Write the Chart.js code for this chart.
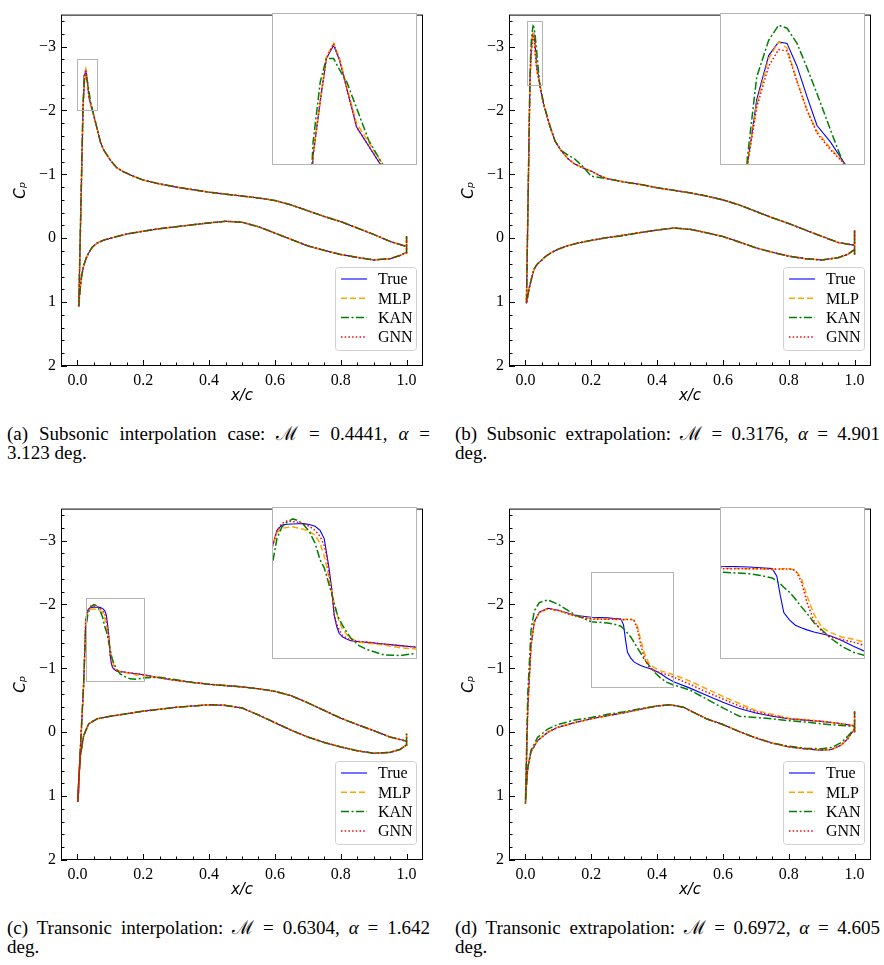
<!DOCTYPE html>
<html>
<head>
<meta charset="utf-8">
<script src="https://cdn.jsdelivr.net/npm/chart.js@4.4.0/dist/chart.umd.min.js"></script>
<style>
  body { margin: 0; background: #fff; width: 884px; height: 965px; position: relative; overflow: hidden; }
  .panel { position: absolute; width: 440px; height: 410px; }
  .panel canvas.main { position: absolute; left: 0; top: 0; }
  .panel canvas.inset { position: absolute; left: 272px; top: 13px; background: #fff; }
  .cap { position: absolute; font-family: "Liberation Serif", serif; font-size: 19px; line-height: 19px; color: #000; }
  .cap .l1 { display: block; text-align: justify; text-align-last: justify; white-space: nowrap; }
</style>
</head>
<body>
<div class="panel" style="left:0;top:0"><canvas class="main" id="mainA" width="440" height="410"></canvas><canvas class="inset" id="insA" width="145" height="152"></canvas></div>
<div class="panel" style="left:448px;top:0"><canvas class="main" id="mainB" width="440" height="410"></canvas><canvas class="inset" id="insB" width="145" height="152"></canvas></div>
<div class="panel" style="left:0;top:494px"><canvas class="main" id="mainC" width="440" height="410"></canvas><canvas class="inset" id="insC" width="145" height="152"></canvas></div>
<div class="panel" style="left:448px;top:494px"><canvas class="main" id="mainD" width="440" height="410"></canvas><canvas class="inset" id="insD" width="145" height="152"></canvas></div>

<div class="cap" style="left:7px;top:424px;width:423px"><span class="l1">(a) Subsonic interpolation case: ℳ = 0.4441, <i>α</i> =</span>3.123 deg.</div>
<div class="cap" style="left:455px;top:424px;width:425px"><span class="l1">(b) Subsonic extrapolation: ℳ = 0.3176, <i>α</i> = 4.901</span>deg.</div>
<div class="cap" style="left:7px;top:918px;width:423px"><span class="l1">(c) Transonic interpolation: ℳ = 0.6304, <i>α</i> = 1.642</span>deg.</div>
<div class="cap" style="left:455px;top:918px;width:425px"><span class="l1">(d) Transonic extrapolation: ℳ = 0.6972, <i>α</i> = 4.605</span>deg.</div>

<script>
// axes
const xTicks = [0, 0.2, 0.4, 0.6, 0.8, 1.0];
const yTicks = [-3, -2, -1, 0, 1, 2];

const seriesNames = ["True", "MLP", "KAN", "GNN"];
const seriesColors = ["#0000ff", "#ffa500", "#008000", "#ff0000"];
const seriesDash = [[], [6, 3], [8, 2.5, 2, 2.5], [1.5, 2.2]];

// (a) subsonic interpolation -- loop: TE spike, upper surface TE->LE, lower LE->TE
const aX = [1.0, 1.0, 1.0,
  0.95, 0.9, 0.85, 0.8, 0.75, 0.7, 0.65, 0.6, 0.55, 0.5,
  0.45, 0.4, 0.35, 0.3, 0.25, 0.2, 0.17, 0.14, 0.12, 0.1,
  0.08, 0.07, 0.06, 0.05, 0.045, 0.04, 0.035, 0.031, 0.028, 0.0255,
  0.0225, 0.02, 0.017, 0.004,
  0.006, 0.009, 0.013, 0.019, 0.026, 0.034, 0.045, 0.06, 0.08, 0.1,
  0.15, 0.2, 0.25, 0.3, 0.35, 0.4, 0.45, 0.5, 0.55, 0.6,
  0.65, 0.7, 0.75, 0.8, 0.85, 0.9, 0.95, 0.98, 1.0];
const aTrue = [0.24, -0.035, 0.13,
  0.05, -0.06, -0.16, -0.26, -0.34, -0.43, -0.52, -0.59, -0.63, -0.66,
  -0.69, -0.72, -0.76, -0.80, -0.85, -0.91, -0.97, -1.04, -1.10, -1.22,
  -1.38, -1.50, -1.71, -1.91, -2.00, -2.10, -2.20, -2.40, -2.55, -2.63,
  -2.56, -2.34, -2.05, 1.07,
  0.92, 0.75, 0.58, 0.43, 0.32, 0.23, 0.14, 0.076, 0.03, 0.0,
  -0.066, -0.11, -0.15, -0.18, -0.21, -0.24, -0.265, -0.25, -0.18, -0.08,
  0.02, 0.12, 0.19, 0.255, 0.30, 0.34, 0.32, 0.27, 0.22];
const aMLP = [0.24, -0.035, 0.13,
  0.05, -0.06, -0.16, -0.26, -0.34, -0.43, -0.52, -0.59, -0.63, -0.66,
  -0.69, -0.72, -0.76, -0.80, -0.85, -0.91, -0.97, -1.04, -1.10, -1.22,
  -1.38, -1.50, -1.71, -1.92, -2.02, -2.12, -2.22, -2.41, -2.56, -2.64,
  -2.57, -2.34, -2.05, 1.07,
  0.92, 0.75, 0.58, 0.43, 0.32, 0.23, 0.14, 0.076, 0.03, 0.0,
  -0.066, -0.11, -0.15, -0.18, -0.21, -0.24, -0.265, -0.25, -0.18, -0.08,
  0.02, 0.12, 0.19, 0.255, 0.30, 0.34, 0.32, 0.27, 0.22];
const aKAN = [0.24, -0.035, 0.13,
  0.05, -0.06, -0.16, -0.26, -0.34, -0.43, -0.52, -0.59, -0.63, -0.66,
  -0.69, -0.72, -0.76, -0.80, -0.85, -0.91, -0.97, -1.04, -1.10, -1.22,
  -1.38, -1.50, -1.71, -1.92, -2.02, -2.13, -2.30, -2.435, -2.50, -2.56,
  -2.56, -2.44, -2.12, 1.07,
  0.92, 0.75, 0.58, 0.43, 0.32, 0.23, 0.14, 0.076, 0.03, 0.0,
  -0.066, -0.11, -0.15, -0.18, -0.21, -0.24, -0.265, -0.25, -0.18, -0.08,
  0.02, 0.12, 0.19, 0.255, 0.30, 0.34, 0.32, 0.27, 0.22];
const aGNN = [0.24, -0.035, 0.13,
  0.05, -0.06, -0.16, -0.26, -0.34, -0.43, -0.52, -0.59, -0.63, -0.66,
  -0.69, -0.72, -0.76, -0.80, -0.85, -0.91, -0.97, -1.04, -1.10, -1.22,
  -1.38, -1.50, -1.71, -1.91, -2.00, -2.10, -2.20, -2.40, -2.55, -2.64,
  -2.56, -2.34, -2.05, 1.07,
  0.92, 0.75, 0.58, 0.43, 0.32, 0.23, 0.14, 0.076, 0.03, 0.0,
  -0.066, -0.11, -0.15, -0.18, -0.21, -0.24, -0.265, -0.25, -0.18, -0.08,
  0.02, 0.12, 0.19, 0.255, 0.30, 0.34, 0.32, 0.27, 0.22];
const aInset = [0, 0.06, -2.8, -2.0];

// (b) subsonic extrapolation
const bX = [1.0, 1.0, 1.0,
  0.95, 0.9, 0.85, 0.8, 0.75, 0.7, 0.65, 0.6, 0.55, 0.5,
  0.45, 0.4, 0.35, 0.3, 0.25, 0.225, 0.2, 0.175, 0.15, 0.13,
  0.107, 0.09, 0.077, 0.067, 0.057, 0.05, 0.044, 0.0393, 0.0351, 0.032,
  0.0289, 0.0258, 0.0232, 0.0201, 0.0164, 0.0135, 0.003,
  0.005, 0.008, 0.011, 0.017, 0.026, 0.035, 0.0466, 0.06, 0.077, 0.1,
  0.128, 0.16, 0.198, 0.25, 0.3, 0.35, 0.4, 0.45, 0.5, 0.55,
  0.6, 0.65, 0.7, 0.75, 0.8, 0.85, 0.9, 0.95, 0.98, 1.0];
const bTrue = [0.255, -0.13, 0.11,
  0.066, -0.03, -0.13, -0.23, -0.32, -0.42, -0.52, -0.60, -0.66, -0.71,
  -0.75, -0.79, -0.84, -0.88, -0.93, -0.98, -1.05, -1.10, -1.16, -1.24,
  -1.38, -1.52, -1.71, -1.88, -2.06, -2.22, -2.40, -2.55, -2.66, -2.85,
  -3.05, -3.20, -3.21, -3.12, -2.83, -2.40, 1.02,
  0.96, 0.88, 0.79, 0.66, 0.485, 0.41, 0.356, 0.29, 0.23, 0.17,
  0.118, 0.075, 0.035, -0.01, -0.05, -0.09, -0.127, -0.16, -0.14, -0.085,
  -0.026, 0.06, 0.15, 0.22, 0.28, 0.32, 0.34, 0.305, 0.25, 0.18];
const bMLP = [0.255, -0.13, 0.11,
  0.066, -0.03, -0.13, -0.23, -0.32, -0.42, -0.52, -0.60, -0.66, -0.71,
  -0.75, -0.79, -0.84, -0.88, -0.93, -0.98, -1.05, -1.10, -1.16, -1.24,
  -1.38, -1.52, -1.71, -1.88, -2.06, -2.22, -2.40, -2.51, -2.62, -2.76,
  -2.95, -3.17, -3.21, -3.10, -2.80, -2.40, 1.02,
  0.96, 0.88, 0.79, 0.66, 0.485, 0.41, 0.356, 0.29, 0.23, 0.17,
  0.118, 0.075, 0.035, -0.01, -0.05, -0.09, -0.127, -0.16, -0.14, -0.085,
  -0.026, 0.06, 0.15, 0.22, 0.28, 0.32, 0.34, 0.305, 0.25, 0.18];
const bKAN = [0.255, -0.13, 0.11,
  0.066, -0.03, -0.13, -0.23, -0.32, -0.42, -0.52, -0.60, -0.66, -0.71,
  -0.75, -0.79, -0.84, -0.88, -0.93, -0.95, -0.97, -1.12, -1.24, -1.30,
  -1.38, -1.52, -1.72, -1.89, -2.08, -2.24, -2.37, -2.63, -2.87, -3.04,
  -3.20, -3.30, -3.32, -3.22, -2.98, -2.45, 1.02,
  0.96, 0.88, 0.79, 0.66, 0.485, 0.41, 0.356, 0.29, 0.23, 0.17,
  0.118, 0.075, 0.035, -0.01, -0.04, -0.09, -0.127, -0.16, -0.14, -0.085,
  -0.026, 0.06, 0.15, 0.22, 0.28, 0.32, 0.34, 0.305, 0.25, 0.18];
const bGNN = [0.255, -0.13, 0.11,
  0.066, -0.03, -0.13, -0.23, -0.32, -0.42, -0.52, -0.60, -0.66, -0.71,
  -0.75, -0.79, -0.84, -0.88, -0.93, -0.98, -1.05, -1.10, -1.16, -1.24,
  -1.38, -1.52, -1.71, -1.88, -2.06, -2.22, -2.40, -2.50, -2.61, -2.76,
  -2.95, -3.15, -3.16, -3.05, -2.78, -2.40, 1.02,
  0.96, 0.88, 0.79, 0.66, 0.485, 0.41, 0.356, 0.29, 0.23, 0.17,
  0.118, 0.075, 0.035, -0.01, -0.05, -0.09, -0.127, -0.16, -0.14, -0.085,
  -0.026, 0.06, 0.15, 0.22, 0.28, 0.32, 0.34, 0.305, 0.25, 0.18];
const bInset = [0.005, 0.05, -3.4, -2.4];

// (c) transonic interpolation
const cX = [1.0, 1.0, 1.0,
  0.95, 0.9, 0.85, 0.8, 0.75, 0.7, 0.65, 0.6, 0.55, 0.5,
  0.45, 0.4, 0.35, 0.3, 0.25, 0.2, 0.18, 0.16, 0.14, 0.13,
  0.12, 0.115, 0.11, 0.106, 0.103, 0.1, 0.097, 0.094, 0.091, 0.088,
  0.083, 0.077, 0.07, 0.063, 0.056, 0.05, 0.043, 0.037, 0.031, 0.025,
  0.019, 0.01, 0.001,
  0.002, 0.004, 0.009, 0.019, 0.034, 0.06, 0.1, 0.15, 0.2, 0.25,
  0.3, 0.35, 0.4, 0.45, 0.5, 0.55, 0.6, 0.65, 0.7, 0.75,
  0.8, 0.85, 0.9, 0.95, 0.98, 1.0];
const cTrue = [0.21, 0.025, 0.14,
  0.076, -0.025, -0.12, -0.22, -0.34, -0.46, -0.57, -0.64, -0.68, -0.71,
  -0.73, -0.75, -0.78, -0.81, -0.85, -0.90, -0.914, -0.928, -0.942, -0.948,
  -0.956, -0.97, -0.99, -1.02, -1.08, -1.18, -1.40, -1.57, -1.70, -1.83,
  -1.90, -1.935, -1.95, -1.958, -1.957, -1.955, -1.952, -1.945, -1.90, -1.75,
  -0.76, 0.165, 1.09,
  0.95, 0.76, 0.36, 0.05, -0.13, -0.21, -0.25, -0.29, -0.33, -0.36,
  -0.39, -0.41, -0.43, -0.42, -0.38, -0.27, -0.15, -0.03, 0.076, 0.16,
  0.23, 0.29, 0.33, 0.315, 0.27, 0.20];
const cMLP = [0.21, 0.025, 0.14,
  0.076, -0.025, -0.12, -0.22, -0.34, -0.46, -0.57, -0.64, -0.68, -0.71,
  -0.73, -0.75, -0.78, -0.81, -0.85, -0.885, -0.895, -0.92, -0.935, -0.945,
  -0.975, -1.01, -1.06, -1.12, -1.197, -1.28, -1.37, -1.48, -1.59, -1.68,
  -1.79, -1.86, -1.89, -1.91, -1.92, -1.93, -1.925, -1.92, -1.88, -1.75,
  -0.76, 0.165, 1.09,
  0.95, 0.76, 0.36, 0.05, -0.13, -0.21, -0.25, -0.29, -0.33, -0.36,
  -0.39, -0.41, -0.43, -0.42, -0.38, -0.27, -0.15, -0.03, 0.076, 0.16,
  0.23, 0.29, 0.33, 0.315, 0.27, 0.20];
const cKAN = [0.21, 0.025, 0.14,
  0.076, -0.025, -0.12, -0.22, -0.34, -0.46, -0.57, -0.64, -0.68, -0.71,
  -0.73, -0.75, -0.78, -0.82, -0.86, -0.85, -0.83, -0.835, -0.88, -0.914,
  -0.98, -1.03, -1.09, -1.14, -1.20, -1.28, -1.36, -1.43, -1.51, -1.58,
  -1.65, -1.79, -1.89, -1.95, -1.985, -1.998, -1.97, -1.93, -1.83, -1.595,
  -0.80, 0.12, 1.09,
  0.95, 0.76, 0.36, 0.05, -0.13, -0.21, -0.25, -0.29, -0.33, -0.36,
  -0.39, -0.41, -0.43, -0.42, -0.38, -0.27, -0.15, -0.03, 0.076, 0.16,
  0.23, 0.29, 0.33, 0.315, 0.27, 0.20];
const cGNN = [0.21, 0.025, 0.14,
  0.076, -0.025, -0.12, -0.22, -0.34, -0.46, -0.57, -0.64, -0.68, -0.71,
  -0.73, -0.75, -0.78, -0.81, -0.85, -0.90, -0.914, -0.928, -0.945, -0.95,
  -0.96, -0.98, -1.0, -1.05, -1.10, -1.18, -1.40, -1.52, -1.68, -1.77,
  -1.85, -1.90, -1.935, -1.955, -1.97, -1.975, -1.98, -1.96, -1.90, -1.75,
  -0.76, 0.165, 1.09,
  0.95, 0.76, 0.36, 0.05, -0.13, -0.21, -0.25, -0.29, -0.33, -0.36,
  -0.39, -0.41, -0.43, -0.42, -0.38, -0.27, -0.15, -0.03, 0.076, 0.16,
  0.23, 0.29, 0.33, 0.315, 0.27, 0.20];
const cInset = [0.025, 0.2, -2.1, -0.8];

// (d) transonic extrapolation
const dX = [1.0, 1.0, 1.0,
  0.95, 0.9, 0.85, 0.8, 0.75, 0.7, 0.65, 0.6, 0.55, 0.5,
  0.45, 0.43, 0.41, 0.39, 0.375, 0.362, 0.35, 0.34, 0.33, 0.32,
  0.31, 0.304, 0.298, 0.29, 0.27, 0.25, 0.2, 0.15, 0.1, 0.068,
  0.042, 0.027, 0.017, 0.007, 0.0,
  0.002, 0.007, 0.017, 0.037, 0.068, 0.098, 0.15, 0.2, 0.25, 0.3,
  0.35, 0.4, 0.44, 0.48, 0.55, 0.6, 0.65, 0.7, 0.75, 0.8,
  0.85, 0.9, 0.93, 0.96, 0.98, 0.99, 1.0];
const dTrue = [0.0, -0.33, -0.10,
  -0.14, -0.17, -0.19, -0.21, -0.25, -0.30, -0.37, -0.47, -0.58, -0.69,
  -0.79, -0.85, -0.92, -0.975, -1.0, -1.02, -1.045, -1.07, -1.10, -1.16,
  -1.25, -1.45, -1.68, -1.77, -1.78, -1.79, -1.80, -1.83, -1.91, -1.94,
  -1.88, -1.73, -1.37, -0.36, 1.12,
  0.9, 0.56, 0.305, 0.13, 0.0, -0.076, -0.15, -0.21, -0.26, -0.305,
  -0.36, -0.41, -0.43, -0.39, -0.21, -0.12, -0.01, 0.09, 0.17, 0.23,
  0.26, 0.28, 0.27, 0.2, 0.1, 0.02, -0.05];
const dMLP = [0.0, -0.33, -0.10,
  -0.14, -0.17, -0.20, -0.22, -0.28, -0.34, -0.45, -0.56, -0.68, -0.80,
  -0.90, -0.935, -0.96, -1.014, -1.08, -1.23, -1.447, -1.66, -1.75, -1.77,
  -1.77, -1.765, -1.76, -1.76, -1.765, -1.77, -1.78, -1.82, -1.90, -1.93,
  -1.87, -1.72, -1.35, -0.36, 1.12,
  0.9, 0.56, 0.305, 0.13, 0.0, -0.076, -0.15, -0.21, -0.26, -0.305,
  -0.36, -0.41, -0.43, -0.39, -0.21, -0.12, -0.01, 0.09, 0.17, 0.23,
  0.26, 0.28, 0.27, 0.2, 0.1, 0.02, -0.05];
const dKAN = [0.0, -0.33, -0.09,
  -0.11, -0.13, -0.16, -0.18, -0.21, -0.23, -0.25, -0.38, -0.52, -0.66,
  -0.74, -0.78, -0.85, -0.95, -1.05, -1.13, -1.24, -1.32, -1.41, -1.49,
  -1.55, -1.59, -1.62, -1.66, -1.69, -1.71, -1.73, -1.84, -2.0, -2.07,
  -2.03, -1.90, -1.60, -0.60, 1.12,
  0.9, 0.56, 0.28, 0.08, -0.05, -0.12, -0.19, -0.23, -0.28, -0.32,
  -0.37, -0.41, -0.43, -0.39, -0.21, -0.12, -0.01, 0.09, 0.17, 0.22,
  0.25, 0.26, 0.24, 0.16, 0.06, 0.0, -0.05];
const dGNN = [0.0, -0.33, -0.10,
  -0.14, -0.17, -0.19, -0.21, -0.26, -0.32, -0.41, -0.52, -0.63, -0.75,
  -0.86, -0.90, -0.93, -0.96, -1.03, -1.15, -1.37, -1.62, -1.75, -1.765,
  -1.765, -1.765, -1.765, -1.765, -1.77, -1.77, -1.77, -1.82, -1.905, -1.935,
  -1.875, -1.72, -1.36, -0.36, 1.12,
  0.9, 0.56, 0.305, 0.13, 0.0, -0.076, -0.15, -0.21, -0.26, -0.305,
  -0.36, -0.41, -0.43, -0.39, -0.21, -0.12, -0.01, 0.09, 0.17, 0.23,
  0.26, 0.28, 0.27, 0.2, 0.1, 0.02, -0.05];
const dInset = [0.2, 0.45, -2.5, -0.7];

const serif = "'Liberation Serif', serif";

function makeDatasets(xs, cols) {
  return cols.map((ys, i) => ({
    label: seriesNames[i],
    data: xs.map((x, k) => ({ x: x, y: ys[k] })),
    showLine: true,
    borderColor: seriesColors[i],
    borderWidth: i === 0 ? 1.1 : 1.5,
    borderDash: seriesDash[i],
    pointRadius: 0,
    tension: 0,
    order: 4 - i
  }));
}

function mainPlugin(box) {
  return {
    id: "cpFrame",
    afterDraw(chart) {
      const { ctx, chartArea: a, scales: { x, y } } = chart;
      ctx.save();
      ctx.strokeStyle = "#000";
      ctx.lineWidth = 1;
      ctx.strokeRect(a.left + 0.5, a.top + 0.5, a.width - 1, a.height - 1);
      ctx.beginPath();
      for (let v = 0; v <= 1.0001; v += 0.05) {
        const px = Math.round(x.getPixelForValue(v)) + 0.5;
        const major = Math.abs(v * 5 - Math.round(v * 5)) < 1e-6;
        ctx.moveTo(px, a.bottom);
        ctx.lineTo(px, a.bottom - (major ? 6 : 3.5));
      }
      for (let v = -3.4; v <= 2.0001; v += 0.2) {
        const py = Math.round(y.getPixelForValue(v)) + 0.5;
        const major = Math.abs(v - Math.round(v)) < 1e-6;
        ctx.moveTo(a.left, py);
        ctx.lineTo(a.left + (major ? 6 : 3.5), py);
      }
      ctx.stroke();
      // zoom region
      ctx.strokeStyle = "#b4b4b4";
      const x0 = x.getPixelForValue(box[0]), x1 = x.getPixelForValue(box[1]);
      const y0 = y.getPixelForValue(box[2]), y1 = y.getPixelForValue(box[3]);
      ctx.strokeRect(Math.round(x0) + 0.5, Math.round(y0) + 0.5, Math.round(x1 - x0), Math.round(y1 - y0));
      // legend
      const lx = a.right - 88, ly = a.bottom - 99, lw = 81, lh = 83;
      ctx.fillStyle = "#fff";
      ctx.strokeStyle = "#d0d0d0";
      ctx.beginPath();
      ctx.roundRect(lx + 0.5, ly + 0.5, lw, lh, 3);
      ctx.fill();
      ctx.stroke();
      ctx.font = "16px " + serif;
      ctx.textBaseline = "middle";
      seriesNames.forEach((name, i) => {
        const ry = ly + 12 + i * 19.3;
        ctx.strokeStyle = seriesColors[i];
        ctx.lineWidth = i === 0 ? 1.1 : 1.5;
        ctx.setLineDash(seriesDash[i]);
        ctx.beginPath();
        ctx.moveTo(lx + 6, ry);
        ctx.lineTo(lx + 32, ry);
        ctx.stroke();
        ctx.setLineDash([]);
        ctx.fillStyle = "#000";
        ctx.fillText(name, lx + 43, ry + 1);
      });
      ctx.restore();
    }
  };
}

const insetBorder = {
  id: "insetBorder",
  afterDraw(chart) {
    const { ctx, width, height } = chart;
    ctx.save();
    ctx.strokeStyle = "#b4b4b4";
    ctx.lineWidth = 1;
    ctx.strokeRect(0.5, 0.5, width - 1, height - 1);
    ctx.restore();
  }
};

function buildPanel(mainId, insId, xs, cols, box) {
  new Chart(document.getElementById(mainId), {
    type: "scatter",
    data: { datasets: makeDatasets(xs, cols) },
    options: {
      responsive: false,
      animation: false,
      events: [],
      layout: { padding: { left: 0, top: 6, right: 17, bottom: 0 } },
      plugins: { legend: { display: false }, tooltip: { enabled: false } },
      scales: {
        x: {
          type: "linear",
          min: -0.05,
          max: 1.05,
          grid: { display: false, drawTicks: false },
          border: { display: false },
          afterBuildTicks: (s) => { s.ticks = xTicks.map((v) => ({ value: v })); },
          afterFit: (s) => { s.height = 44; },
          ticks: {
            padding: 5,
            color: "#000",
            font: { family: serif, size: 16 },
            callback: (v) => Number(v).toFixed(1)
          },
          title: {
            display: true,
            text: "x/c",
            color: "#000",
            font: { family: "'DejaVu Sans', sans-serif", size: 15, style: "italic" },
            padding: { top: 0, bottom: 5 }
          }
        },
        y: {
          type: "linear",
          min: -3.5,
          max: 2,
          reverse: true,
          grid: { display: false, drawTicks: false },
          border: { display: false },
          afterBuildTicks: (s) => { s.ticks = yTicks.map((v) => ({ value: v })); },
          afterFit: (s) => { s.width = 61; },
          ticks: {
            padding: 5,
            color: "#000",
            font: { family: serif, size: 16 },
            callback: (v) => (v < 0 ? "\u2212" + -v : String(v))
          },
          title: {
            display: true,
            text: "C\u209A",
            color: "#000",
            font: { family: "'DejaVu Sans', sans-serif", size: 15, style: "italic" },
            padding: { top: 12, bottom: 0 }
          }
        }
      }
    },
    plugins: [mainPlugin(box)]
  });

  new Chart(document.getElementById(insId), {
    type: "scatter",
    data: { datasets: makeDatasets(xs, cols) },
    options: {
      responsive: false,
      animation: false,
      events: [],
      layout: { padding: 0 },
      plugins: { legend: { display: false }, tooltip: { enabled: false } },
      scales: {
        x: { display: false, min: box[0], max: box[1] },
        y: { display: false, min: box[2], max: box[3], reverse: true }
      }
    },
    plugins: [insetBorder]
  });
}

buildPanel("mainA", "insA", aX, [aTrue, aMLP, aKAN, aGNN], aInset);
buildPanel("mainB", "insB", bX, [bTrue, bMLP, bKAN, bGNN], bInset);
buildPanel("mainC", "insC", cX, [cTrue, cMLP, cKAN, cGNN], cInset);
buildPanel("mainD", "insD", dX, [dTrue, dMLP, dKAN, dGNN], dInset);
</script>
</body>
</html>
